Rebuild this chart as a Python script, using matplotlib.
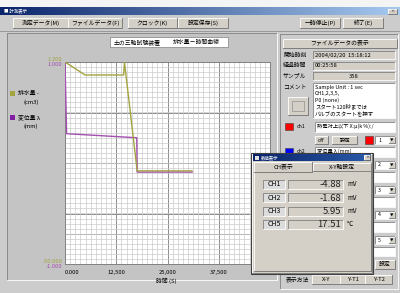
#!/usr/bin/env python
# -*- coding: utf8

import numpy as np
import matplotlib
matplotlib.use('Agg')
from matplotlib import pyplot as plt
from matplotlib import rc
from matplotlib.patches import Rectangle
from matplotlib.colors import LinearSegmentedColormap

W, H = 400, 293

# chart data (time in s)
time_ticks = [0, 12500, 25000, 37500]
time_labels = ['0.000', '12,500', '25,000', '37,500']
time_lim = [0, 50000]

drain_t = [0, 4900, 14300, 14500, 17600, 31000]
drain_v = [1.2, -2.1, -2.1, 1.2, -26.4, -26.4]
drain_lim = [-50.0, 1.2]

disp_t = [0, 400, 17500, 17600, 31000]
disp_v = [1.0, 0.29, 0.25, -0.09, -0.09]
disp_lim = [-1.0, 1.0]
ref_level = -0.7

# numeric readout dialog
channels = ['CH1', 'CH2', 'CH3', 'CH5']
readings = [-4.88, -1.68, 5.95, 17.51]
units = ['mV', 'mV', 'mV', '℃']

toolbar_left = ['測定データ(M)', 'ファイルデータ(F)', 'クロック(K)', '設定保存(S)']
toolbar_right = ['一時停止(P)', '終了(E)']

side_labels = ['開始時刻', '経過時間', 'サンプル']
side_values = ['2004/02/20  15:18:12', '00:25:58', '358']
comment_lines = ['Sample Unit : 1 sec', 'CH1,2,3,5,', 'P0 (none)',
                 'スタート120秒までは', 'バルブのスタートを押す']
ch_names = ['ch1', 'ch2', 'ch3', 'ch4', 'ch5']
ch_colors = ['#ff0000', '#0000ff', '#00a000', '#a040a0', '#a0a030']
ch_text = ['熱電対上以下 X:μ(k %):/', '変位量 λ (mm)']

FACE = '#d4d0c8'
BODY = '#cccccc'
PANEL = '#c4c4c4'
OLIVE = '#a3a340'
PURPLE = '#a450b0'


def initialize_matplotlib():
    rc('figure', figsize=(W / 100.0, H / 100.0), dpi=100)
    rc('savefig', dpi=100)
    rc('font', family=['Noto Sans CJK JP', 'DejaVu Sans'], size=4.2)
    rc('axes', unicode_minus=False)
    rc('lines', linewidth=0.7)


def box(ax, x, y, w, h, face=FACE, sunken=False, z=2):
    hi, lo = ('#808080', 'white') if sunken else ('white', '#707070')
    ax.add_patch(Rectangle((x, y), w, h, facecolor=face, edgecolor='none', zorder=z))
    ax.plot([x, x, x + w], [y + h, y, y], color=hi, lw=0.6, zorder=z)
    ax.plot([x, x + w, x + w], [y + h, y + h, y], color=lo, lw=0.6, zorder=z)


def button(ax, x, y, w, h, label, fs=4.2, z=2):
    box(ax, x, y, w, h, z=z)
    if label:
        ax.text(x + w / 2.0, y + h / 2.0, label, ha='center', va='center',
                fontsize=fs, zorder=z + 1)


def pixel_axes(fig, z):
    ax = fig.add_axes([0, 0, 1, 1], zorder=z)
    ax.patch.set_alpha(0)
    ax.axis('off')
    return ax


def finish(ax):
    ax.set_xlim(0, W)
    ax.set_ylim(H, 0)


def draw_window(base):
    base.add_patch(Rectangle((0, 0), W, H, facecolor=BODY, edgecolor='none', zorder=0))
    base.add_patch(Rectangle((0, 0), W, 7, facecolor='#f4f4f4', edgecolor='none', zorder=0))
    cmap = LinearSegmentedColormap.from_list('tb', ['#0a246a', '#a6caf0'])
    base.imshow(np.linspace(0, 1, 256)[None, :], extent=[0, W, 15, 7],
                aspect='auto', cmap=cmap, zorder=1)
    base.text(4, 11, '■ 計測表示', color='white', fontsize=3.2, va='center', zorder=2)
    button(base, 388, 8.5, 9, 5.5, '×', fs=3)

    # toolbar
    xs = [13, 68, 128, 178]
    ws = [55, 54, 49, 50]
    for x, w, s in zip(xs, ws, toolbar_left):
        button(base, x, 18, w, 10, s)
    for x, w, s in zip([300, 343], [40, 40], toolbar_right):
        button(base, x, 18, w, 10, s)
    base.plot([0, W], [31, 31], color='#909090', lw=0.6)

    # chart panel
    box(base, 7, 33, 270, 247, face=PANEL, sunken=True, z=1)
    base.add_patch(Rectangle((110, 37), 118, 10, facecolor='white',
                             edgecolor='#808080', lw=0.5, zorder=2))
    base.text(137, 42, '土の三軸試験装置', ha='center', va='center', zorder=3)
    base.text(196, 42, '排水量－時間曲線', ha='center', va='center', zorder=3)

    # legend
    base.add_patch(Rectangle((10, 91), 5, 5, facecolor=OLIVE, zorder=3))
    base.text(18, 93.5, '排水量 -', va='center', zorder=3)
    base.text(23, 102, '(cm3)', va='center', zorder=3)
    base.add_patch(Rectangle((10, 115), 5, 5, facecolor='#8020a0', zorder=3))
    base.text(18, 117.5, '変位量 λ', va='center', zorder=3)
    base.text(23, 126, '(mm)', va='center', zorder=3)
    base.text(166, 281, '時間 (S)', ha='center', va='center', zorder=3)


def draw_side(base):
    box(base, 280, 34, 118, 255, face=BODY, sunken=True, z=1)
    button(base, 283, 39, 114, 9, 'ファイルデータの表示')
    for i, (lab, val) in enumerate(zip(side_labels, side_values)):
        y = 51 + 10.5 * i
        base.text(283, y + 4, lab, va='center', zorder=3)
        box(base, 313, y, 82, 8, sunken=True)
        if i == 2:
            base.text(354, y + 4, val, ha='center', va='center', zorder=3)
        else:
            base.text(315, y + 4, val, va='center', zorder=3)
    base.text(283, 87, 'コメント', va='center', zorder=3)
    box(base, 313, 83, 82, 35, face='white', sunken=True)
    for j, line in enumerate(comment_lines):
        base.text(315, 87 + 6.6 * j, line, va='center', fontsize=3.9, zorder=3)
    button(base, 288, 97, 20, 18, '')
    base.add_patch(Rectangle((292, 101), 12, 10, facecolor='none',
                             edgecolor='#909090', lw=0.5, zorder=3))

    # channel rows; most of them sit behind the readout dialog
    for i in range(5):
        y0 = 122 + 25 * i
        box(base, 315, y0, 80, 9.5, face='white', sunken=True)
        if i < 2:
            base.add_patch(Rectangle((285, y0 + 0.5), 8, 7.5, facecolor=ch_colors[i],
                                     edgecolor='#404040', lw=0.4, zorder=3))
            base.text(297, y0 + 4.2, ch_names[i], va='center', fontsize=3.8, zorder=3)
            base.text(317, y0 + 4.2, ch_text[i], va='center', fontsize=3.8, zorder=3)
        if i == 0:
            button(base, 315, y0 + 14, 13, 8, 'off', fs=3.8)
            button(base, 332, y0 + 14, 25, 8, '設定', fs=3.8)
            base.add_patch(Rectangle((365, y0 + 14), 8, 8, facecolor=ch_colors[i],
                                     edgecolor='#404040', lw=0.4, zorder=3))
        box(base, 375, y0 + 14, 20, 8, face='white', sunken=True)
        base.text(378, y0 + 18, str(i + 1), va='center', fontsize=3.8, zorder=3)
        button(base, 389, y0 + 15, 5.5, 6, '▼', fs=2.5, z=3)
    box(base, 315, 247, 80, 9, face='white', sunken=True)
    button(base, 375, 260, 20, 8.5, '設定')

    base.text(286, 279.5, '表示方法', va='center', zorder=3)
    for x, w, s in zip([312, 340, 365], [28, 25, 27], ['X-Y', 'Y-T1', 'Y-T2']):
        button(base, x, 275, w, 9, s)


def draw_dialog(top):
    top.add_patch(Rectangle((251, 153), 122, 121, facecolor=FACE,
                            edgecolor='#404040', lw=0.8, zorder=2))
    box(top, 252, 154, 120, 119, z=2)
    cmap = LinearSegmentedColormap.from_list('dlg', ['#0a246a', '#2a5aa8'])
    top.imshow(np.linspace(0, 1, 64)[None, :], extent=[253, 371, 161, 154],
               aspect='auto', cmap=cmap, zorder=3)
    top.add_patch(Rectangle((254.5, 155.5), 4, 4, facecolor='#e0e0e0', zorder=4))
    top.text(261, 157.5, '数値表示', color='white', fontsize=3.2, va='center', zorder=4)
    button(top, 364, 155, 6, 5, '×', fs=3, z=4)

    box(top, 254, 171, 117, 100, z=3)
    button(top, 254, 162, 58, 9.5, 'CH表示', z=4)
    button(top, 313, 163, 58, 8, 'X-Y軸設定', z=3)

    for i, (ch, val, unit) in enumerate(zip(channels, readings, units)):
        y = 180 + 13.3 * i
        box(top, 263, y, 22, 9, face='#dcdcdc', sunken=True, z=4)
        top.text(274, y + 4.5, ch, ha='center', va='center', fontsize=5, zorder=5)
        box(top, 288, y, 55, 9, sunken=True, z=4)
        top.text(341, y + 4.8, '%.2f' % val, ha='right', va='center',
                 fontsize=6.8, color='#202020', zorder=5)
        top.text(347, y + 4.5, unit, va='center', fontsize=4.5, zorder=5)


def draw_chart(fig):
    ax = fig.add_axes([65.0 / W, 1 - 264.0 / H, 205.0 / W, 202.0 / H], zorder=2)
    ax.set_facecolor('white')
    ax.set_xlim(time_lim)
    ax.set_ylim(disp_lim)
    ax.set_xticks(time_ticks + [50000])
    ax.set_xticklabels(time_labels + [''])
    ax.set_xticks(np.arange(0, 50001, 1250), minor=True)
    ax.set_yticks([-1.0, 1.0])
    ax.set_yticklabels(['%.3f' % v for v in disp_lim], color=PURPLE)
    ax.set_yticks(np.arange(-1.0, 1.001, 0.05), minor=True)
    ax.tick_params(which='both', length=0, pad=2, labelsize=4.2)
    ax.tick_params(axis='x', pad=4)
    for lab in ax.get_yticklabels():
        lab.set_va('top')
    ax.get_xticklabels()[0].set_ha('left')

    ax.grid(which='minor', color='#cacaca', lw=0.5)
    for t in time_ticks[1:]:
        ax.axvline(t, color='#8c8c8c', lw=0.7, zorder=1)
    for v in [-0.5, 0.0, 0.5, ref_level]:
        ax.axhline(v, color='#8c8c8c', lw=0.7, zorder=1)
    for s in ax.spines.values():
        s.set_color('#808080')
        s.set_linewidth(0.7)

    ax2 = ax.twinx()
    ax2.set_ylim(drain_lim)
    ax2.yaxis.tick_left()
    ax2.set_yticks(drain_lim)
    ax2.set_yticklabels(['%.3f' % v for v in drain_lim], color=OLIVE)
    ax2.tick_params(length=0, pad=2, labelsize=4.2)
    for lab in ax2.get_yticklabels():
        lab.set_va('bottom')
    for s in ax2.spines.values():
        s.set_visible(False)

    ax.plot(disp_t, disp_v, color=PURPLE, lw=1.0, zorder=3)
    ax2.plot(drain_t, drain_v, color=OLIVE, lw=1.0, zorder=3)


def main():
    initialize_matplotlib()
    fig = plt.figure()

    base = pixel_axes(fig, 0)
    draw_window(base)
    draw_side(base)
    finish(base)

    draw_chart(fig)

    top = pixel_axes(fig, 5)
    draw_dialog(top)
    finish(top)

    fig.savefig('out.png', dpi=100)


if __name__ == '__main__':
    main()
